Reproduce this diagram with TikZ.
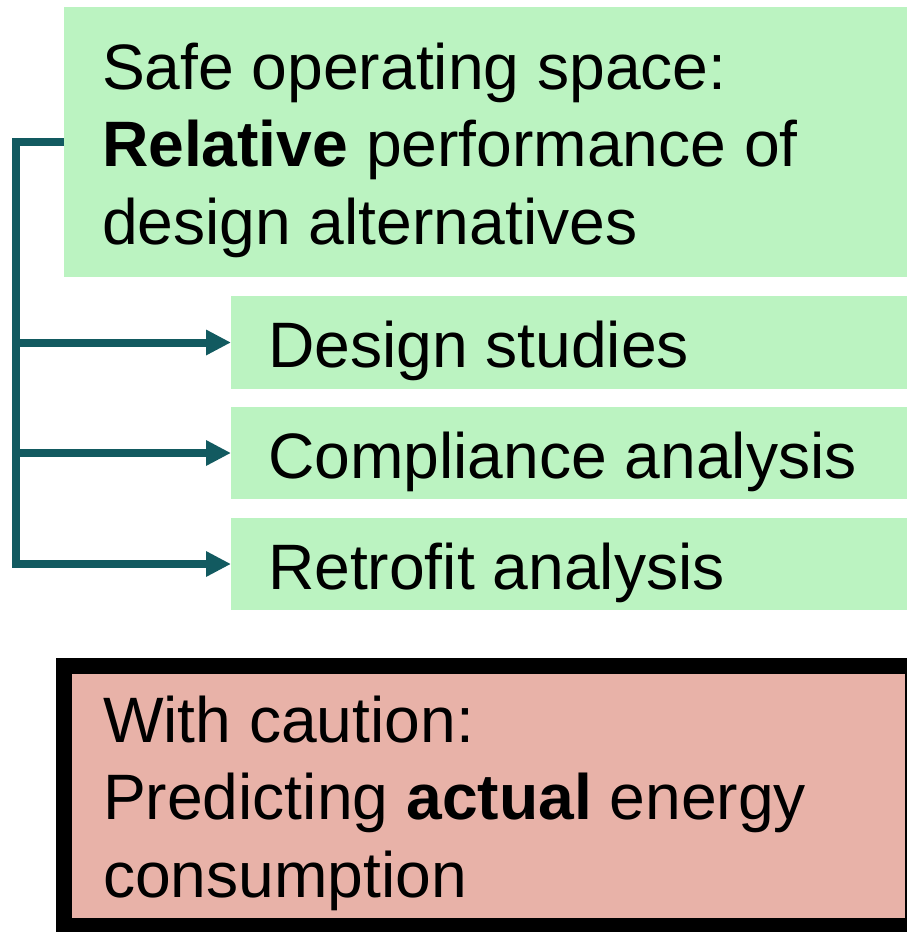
\documentclass[tikz,border=0pt]{standalone}
\usepackage{fontspec}
\setmainfont{Liberation Sans}
\usetikzlibrary{arrows.meta}
\definecolor{boxgreen}{RGB}{187,243,193}
\definecolor{boxpink}{RGB}{232,178,168}
\definecolor{connteal}{RGB}{18,90,96}
\tikzset{
  gbox/.style={rectangle, fill=boxgreen, draw=none, inner sep=0pt, outer sep=0pt, anchor=north west},
  pbox/.style={rectangle, fill=boxpink, draw=black, line width=16pt, inner sep=0pt, outer sep=0pt, anchor=north west},
  txt/.style={inner sep=0pt, outer sep=0pt, anchor=base west, align=left, font=\fontsize{64.2}{77.5}\selectfont},
  conn/.style={draw=connteal, line width=8pt, line join=miter},
  arr/.style={conn, -{Triangle[length=25pt, width=24pt]}}
}
\begin{document}
\begin{tikzpicture}[x=1pt, y=-1pt]
\useasboundingbox (0,0) rectangle (907,932);
\clip (0,0) rectangle (907,932);
% boxes
\node[gbox, minimum width=870pt, minimum height=270pt] (top) at (64,7) {};
\node[gbox, minimum width=700pt, minimum height=93pt] (design) at (231,296) {};
\node[gbox, minimum width=700pt, minimum height=92pt] (compl) at (231,407) {};
\node[gbox, minimum width=700pt, minimum height=92pt] (retro) at (231,518) {};
\node[pbox, minimum width=849pt, minimum height=260pt] (caution) at (64,666) {};
% texts (base anchor = baseline of the last line)
\node[txt] (toptext) at (102,244) {Safe operating space:\\\textbf{Relative} performance of\\design alternatives};
\node[txt] (designtext) at (268,367) {Design studies};
\node[txt] (compltext) at (268,478) {Compliance analysis};
\node[txt] (retrotext) at (268,589) {Retrofit analysis};
\node[txt] (cautiontext) at (103,897) {With caution:\\Predicting \textbf{actual} energy\\consumption};
% connectors
\coordinate (jt) at (16,142);
\coordinate (jb) at (16,564);
\draw[arr] (top.west) -- (jt) -- (jb) -- (retro.west);
\draw[arr] (jt |- design.west) -- (design.west);
\draw[arr] (jt |- compl.west) -- (compl.west);
\end{tikzpicture}
\end{document}
